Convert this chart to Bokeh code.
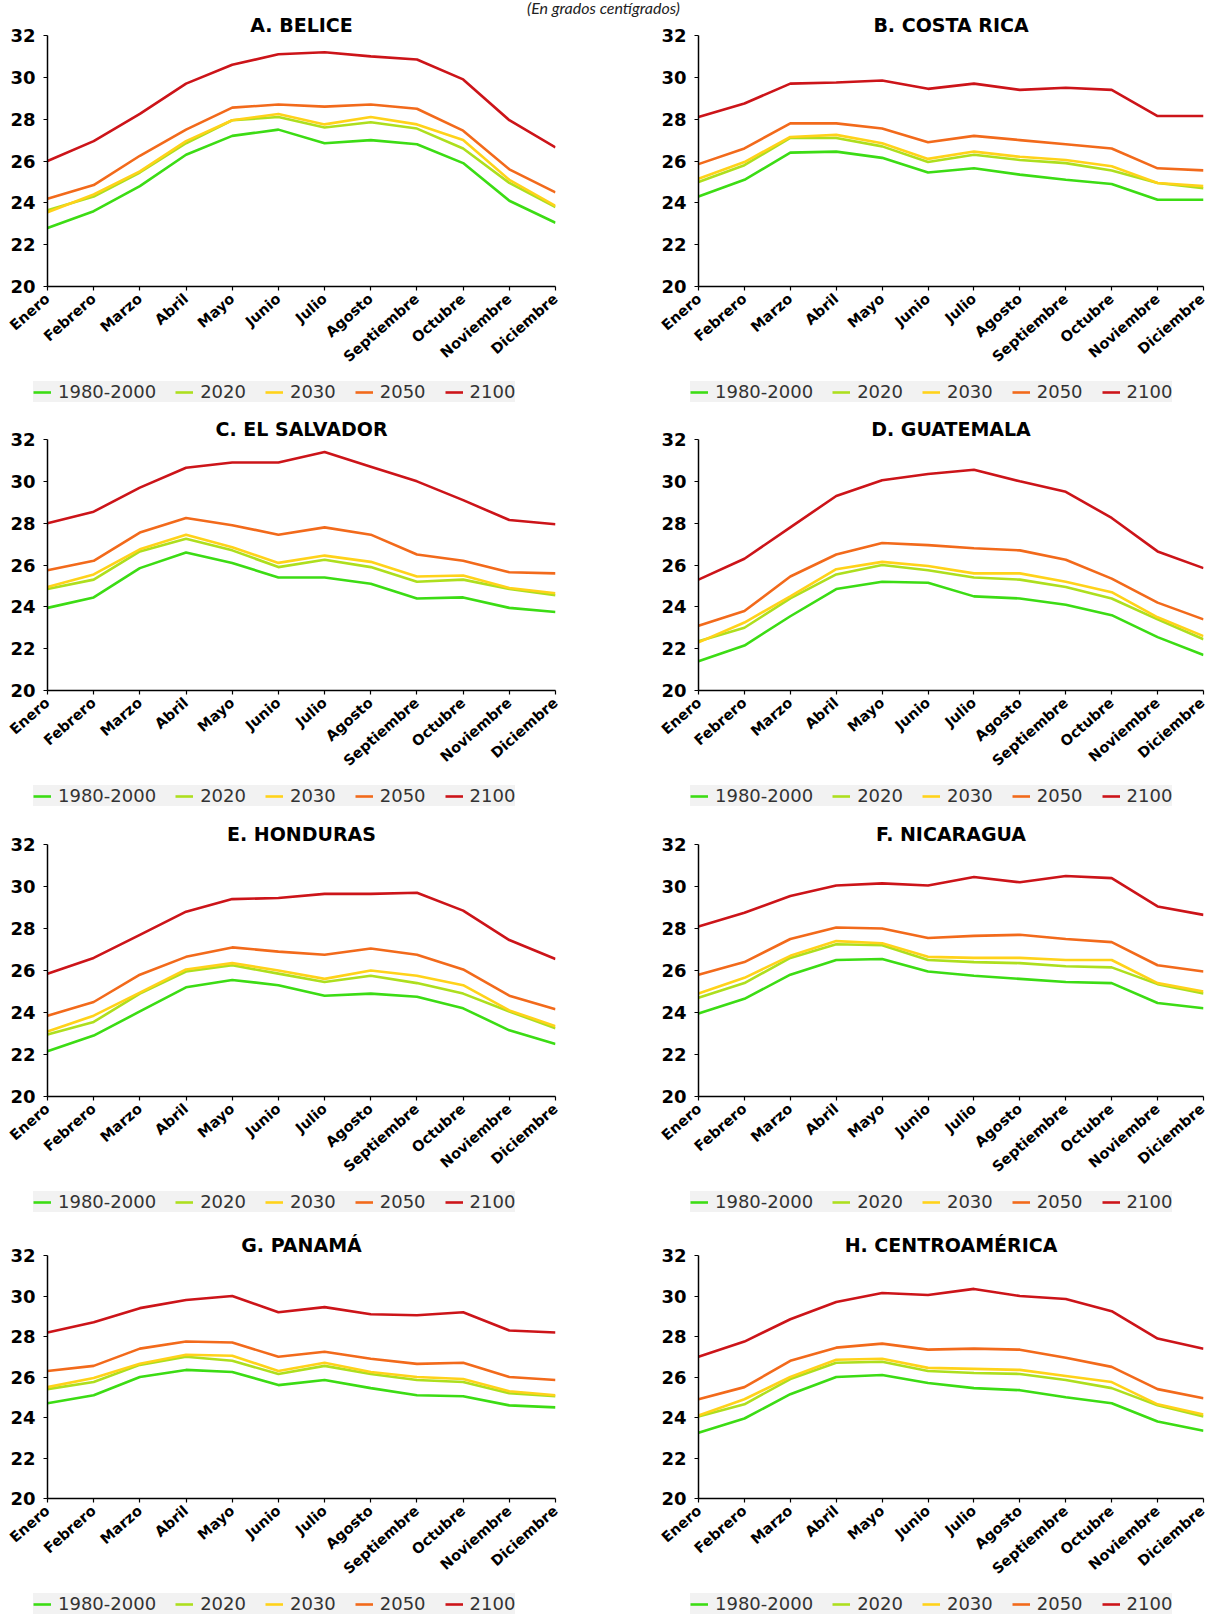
from bokeh.plotting import figure
from bokeh.models import Range1d, Legend, LegendItem, FixedTicker, Div
from bokeh.layouts import column, row
from bokeh.embed import file_html
from bokeh.resources import INLINE

months = ["Enero", "Febrero", "Marzo", "Abril", "Mayo", "Junio", "Julio",
          "Agosto", "Septiembre", "Octubre", "Noviembre", "Diciembre"]
series_names = ["1980-2000", "2020", "2030", "2050", "2100"]
y_ticks = [20, 22, 24, 26, 28, 30, 32]
subtitle = "(En grados centígrados)"

# A. BELICE
belice_1980 = [22.8, 23.6, 24.8, 26.3, 27.2, 27.5, 26.85, 27.0, 26.8, 25.9, 24.1, 23.05]
belice_2020 = [23.65, 24.3, 25.45, 26.85, 27.95, 28.1, 27.6, 27.85, 27.55, 26.6, 24.95, 23.8]
belice_2030 = [23.55, 24.4, 25.5, 26.95, 27.95, 28.25, 27.75, 28.1, 27.75, 27.0, 25.1, 23.85]
belice_2050 = [24.2, 24.85, 26.25, 27.5, 28.55, 28.7, 28.6, 28.7, 28.5, 27.45, 25.6, 24.5]
belice_2100 = [26.0, 26.95, 28.25, 29.7, 30.6, 31.1, 31.2, 31.0, 30.85, 29.9, 27.95, 26.65]

# B. COSTA RICA
costarica_1980 = [24.3, 25.1, 26.4, 26.45, 26.15, 25.45, 25.65, 25.35, 25.1, 24.9, 24.15, 24.15]
costarica_2020 = [25.0, 25.8, 27.1, 27.1, 26.7, 25.95, 26.3, 26.05, 25.9, 25.55, 24.95, 24.7]
costarica_2030 = [25.15, 25.95, 27.15, 27.25, 26.85, 26.1, 26.45, 26.2, 26.05, 25.75, 24.95, 24.8]
costarica_2050 = [25.85, 26.6, 27.8, 27.8, 27.55, 26.9, 27.2, 27.0, 26.8, 26.6, 25.65, 25.55]
costarica_2100 = [28.1, 28.75, 29.7, 29.75, 29.85, 29.45, 29.7, 29.4, 29.5, 29.4, 28.15, 28.15]

# C. EL SALVADOR
salvador_1980 = [23.95, 24.45, 25.85, 26.6, 26.1, 25.4, 25.4, 25.1, 24.4, 24.45, 23.95, 23.75]
salvador_2020 = [24.85, 25.3, 26.65, 27.25, 26.7, 25.9, 26.25, 25.9, 25.2, 25.3, 24.85, 24.55]
salvador_2030 = [24.95, 25.55, 26.75, 27.45, 26.85, 26.1, 26.45, 26.15, 25.45, 25.5, 24.9, 24.65]
salvador_2050 = [25.75, 26.2, 27.55, 28.25, 27.9, 27.45, 27.8, 27.45, 26.5, 26.2, 25.65, 25.6]
salvador_2100 = [28.0, 28.55, 29.7, 30.65, 30.9, 30.9, 31.4, 30.7, 30.0, 29.1, 28.15, 27.95]

# D. GUATEMALA
guatemala_1980 = [21.4, 22.15, 23.55, 24.85, 25.2, 25.15, 24.5, 24.4, 24.1, 23.6, 22.55, 21.7]
guatemala_2020 = [22.35, 23.0, 24.4, 25.55, 26.0, 25.75, 25.4, 25.3, 24.95, 24.4, 23.4, 22.45]
guatemala_2030 = [22.3, 23.25, 24.5, 25.8, 26.15, 25.95, 25.6, 25.6, 25.2, 24.7, 23.5, 22.6]
guatemala_2050 = [23.1, 23.8, 25.45, 26.5, 27.05, 26.95, 26.8, 26.7, 26.25, 25.35, 24.2, 23.4]
guatemala_2100 = [25.3, 26.3, 27.8, 29.3, 30.05, 30.35, 30.55, 30.0, 29.5, 28.25, 26.65, 25.85]

# E. HONDURAS
honduras_1980 = [22.15, 22.9, 24.05, 25.2, 25.55, 25.3, 24.8, 24.9, 24.75, 24.2, 23.15, 22.5]
honduras_2020 = [22.95, 23.55, 24.9, 25.95, 26.25, 25.85, 25.45, 25.75, 25.4, 24.9, 24.05, 23.25]
honduras_2030 = [23.1, 23.85, 24.95, 26.05, 26.35, 26.0, 25.6, 26.0, 25.75, 25.3, 24.1, 23.35]
honduras_2050 = [23.85, 24.5, 25.8, 26.65, 27.1, 26.9, 26.75, 27.05, 26.75, 26.05, 24.8, 24.15]
honduras_2100 = [25.85, 26.6, 27.7, 28.8, 29.4, 29.45, 29.65, 29.65, 29.7, 28.85, 27.45, 26.55]

# F. NICARAGUA
nicaragua_1980 = [23.95, 24.65, 25.8, 26.5, 26.55, 25.95, 25.75, 25.6, 25.45, 25.4, 24.45, 24.2]
nicaragua_2020 = [24.7, 25.4, 26.6, 27.25, 27.2, 26.5, 26.4, 26.35, 26.2, 26.15, 25.35, 24.9]
nicaragua_2030 = [24.9, 25.65, 26.7, 27.4, 27.3, 26.65, 26.6, 26.6, 26.5, 26.5, 25.4, 25.0]
nicaragua_2050 = [25.8, 26.4, 27.5, 28.05, 28.0, 27.55, 27.65, 27.7, 27.5, 27.35, 26.25, 25.95]
nicaragua_2100 = [28.1, 28.75, 29.55, 30.05, 30.15, 30.05, 30.45, 30.2, 30.5, 30.4, 29.05, 28.65]

# G. PANAMÁ
panama_1980 = [24.7, 25.1, 26.0, 26.35, 26.25, 25.6, 25.85, 25.45, 25.1, 25.05, 24.6, 24.5]
panama_2020 = [25.4, 25.75, 26.6, 27.0, 26.8, 26.15, 26.55, 26.15, 25.85, 25.75, 25.2, 25.05]
panama_2030 = [25.5, 25.95, 26.65, 27.1, 27.05, 26.3, 26.7, 26.25, 26.0, 25.9, 25.3, 25.1]
panama_2050 = [26.3, 26.55, 27.4, 27.75, 27.7, 27.0, 27.25, 26.9, 26.65, 26.7, 26.0, 25.85]
panama_2100 = [28.2, 28.7, 29.4, 29.8, 30.0, 29.2, 29.45, 29.1, 29.05, 29.2, 28.3, 28.2]

# H. CENTROAMÉRICA
centro_1980 = [23.25, 23.95, 25.15, 26.0, 26.1, 25.7, 25.45, 25.35, 25.0, 24.7, 23.8, 23.35]
centro_2020 = [24.05, 24.65, 25.9, 26.7, 26.75, 26.3, 26.2, 26.15, 25.85, 25.45, 24.6, 24.05]
centro_2030 = [24.1, 24.9, 26.0, 26.85, 26.9, 26.45, 26.4, 26.35, 26.05, 25.75, 24.65, 24.15]
centro_2050 = [24.9, 25.5, 26.8, 27.45, 27.65, 27.35, 27.4, 27.35, 26.95, 26.5, 25.4, 24.95]
centro_2100 = [27.0, 27.75, 28.85, 29.7, 30.15, 30.05, 30.35, 30.0, 29.85, 29.25, 27.9, 27.4]

colors = ["#3cdc14", "#addf1e", "#ffd21a", "#f26a1b", "#cc1419"]

panels = [
    ("A. BELICE", [belice_1980, belice_2020, belice_2030, belice_2050, belice_2100]),
    ("B. COSTA RICA", [costarica_1980, costarica_2020, costarica_2030, costarica_2050, costarica_2100]),
    ("C. EL SALVADOR", [salvador_1980, salvador_2020, salvador_2030, salvador_2050, salvador_2100]),
    ("D. GUATEMALA", [guatemala_1980, guatemala_2020, guatemala_2030, guatemala_2050, guatemala_2100]),
    ("E. HONDURAS", [honduras_1980, honduras_2020, honduras_2030, honduras_2050, honduras_2100]),
    ("F. NICARAGUA", [nicaragua_1980, nicaragua_2020, nicaragua_2030, nicaragua_2050, nicaragua_2100]),
    ("G. PANAMÁ", [panama_1980, panama_2020, panama_2030, panama_2050, panama_2100]),
    ("H. CENTROAMÉRICA", [centro_1980, centro_2020, centro_2030, centro_2050, centro_2100]),
]

FONT = "DejaVu Sans"
PAGE_W = 1207
row_tops = [35, 27, 27, 27]
frame_heights = [252, 252, 253, 244]
BOTTOM = 87
legend_heights = [38, 39, 44, 28]
LEG_BOX = 28


def make_chart(title, data, right, top, frame_h):
    if right:
        width, border_l, frame_w = 549, 39, 506
    else:
        width, border_l, frame_w = 658, 47, 508
    height = top + frame_h + BOTTOM
    p = figure(width=width, height=height, x_range=Range1d(0, 11), y_range=Range1d(20, 32),
               output_backend="svg", toolbar_location=None,
               min_border_left=border_l, min_border_right=width - border_l - frame_w,
               min_border_top=top, min_border_bottom=BOTTOM)
    p.border_fill_color = None
    p.outline_line_color = None
    p.grid.visible = False
    p.title.text = title
    p.title.align = "center"
    p.title.text_font = FONT
    p.title.text_font_style = "bold"
    p.title.text_font_size = "19px"
    p.title.text_color = "black"
    p.title.standoff = 0
    x = list(range(len(months)))
    for vals, col in zip(data, colors):
        p.line(x, vals, line_color=col, line_width=2.6)
    p.xaxis.ticker = FixedTicker(ticks=x)
    p.xaxis.major_label_overrides = {i: m for i, m in enumerate(months)}
    p.xaxis.major_label_orientation = 0.72
    p.xaxis.major_label_text_font_size = "14.5px"
    p.xaxis.major_label_standoff = 6
    p.yaxis.ticker = FixedTicker(ticks=y_ticks)
    p.yaxis.major_label_text_font_size = "18px"
    p.yaxis.major_label_standoff = 8
    for ax in p.axis:
        ax.axis_line_color = "black"
        ax.axis_line_width = 1.5
        ax.major_tick_line_color = "black"
        ax.major_tick_line_width = 1.2
        ax.major_tick_out = 4
        ax.major_tick_in = 0
        ax.minor_tick_line_color = None
        ax.major_label_text_font = FONT
        ax.major_label_text_font_style = "bold"
        ax.major_label_text_color = "black"
    return p


def make_legend_strip(height, data_left, data_right):
    # Strip holding the two legends of a row; its series lie outside its
    # y range, so only the legend glyphs show.
    p = figure(width=PAGE_W, height=height, x_range=Range1d(0, 11), y_range=Range1d(0, 1),
               output_backend="svg", toolbar_location=None,
               x_axis_location=None, y_axis_location=None, min_border=0)
    p.border_fill_color = None
    p.background_fill_color = None
    p.outline_line_color = None
    p.grid.visible = False
    x = list(range(len(months)))
    y_pos = max(height - LEG_BOX, 0)
    for data, lx in ((data_left, 33), (data_right, 690)):
        rs = [p.line(x, vals, line_color=col, line_width=2.6) for vals, col in zip(data, colors)]
        legend = Legend(items=[LegendItem(label=n, renderers=[r]) for n, r in zip(series_names, rs)],
                        orientation="horizontal", location=(lx, y_pos),
                        background_fill_color="#f2f2f2", background_fill_alpha=1.0,
                        border_line_color=None, padding=4, spacing=19, margin=0,
                        glyph_width=18, glyph_height=18, label_standoff=7, label_height=18,
                        label_text_font=FONT, label_text_font_size="18px", label_text_color="#333333")
        p.add_layout(legend)
    return p


items = [Div(text=subtitle, width=PAGE_W, height=14, margin=(1, 0, -15, 0),
             styles={"text-align": "center", "font-family": "Lato", "font-style": "italic",
                     "font-size": "16px", "line-height": "14px", "color": "#222222"})]
for i in range(4):
    (tl, dl), (tr, dr) = panels[2 * i], panels[2 * i + 1]
    left = make_chart(tl, dl, False, row_tops[i], frame_heights[i])
    right = make_chart(tr, dr, True, row_tops[i], frame_heights[i])
    items.append(row(left, right))
    items.append(make_legend_strip(legend_heights[i], dl, dr))

layout = column(*items)
open("out.html", "w").write(file_html(layout, INLINE))
